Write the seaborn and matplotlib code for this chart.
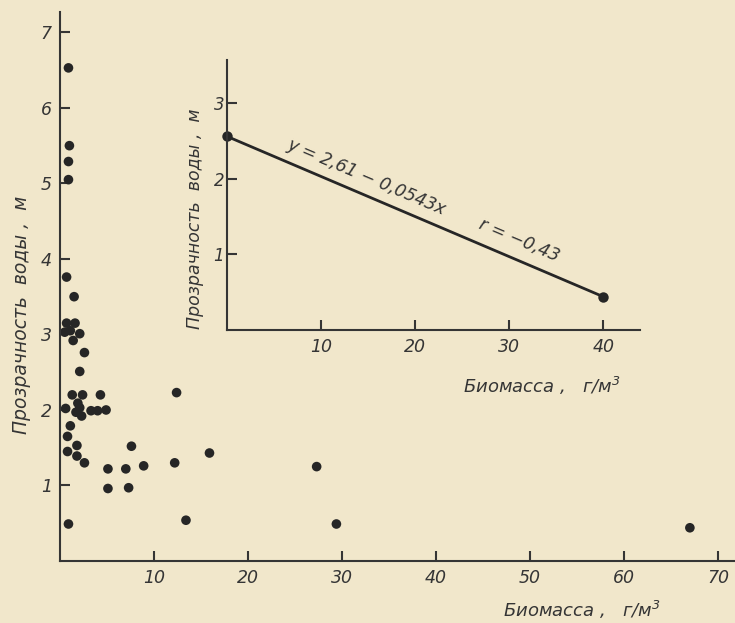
import numpy as np
import pandas as pd
import matplotlib.pyplot as plt
import seaborn as sns

# Биомасса (г/м3) и прозрачность воды (м)
biomassa = [0.9, 1.0, 0.9, 0.9, 0.7, 1.5, 0.7, 1.6, 0.5, 1.1, 2.1, 1.4, 2.6, 2.1,
            1.3, 2.4, 4.3, 0.6, 1.9, 2.1, 1.7, 2.3, 3.3, 4.0, 4.9, 1.1, 0.8, 0.8,
            1.8, 1.8, 2.6, 5.1, 5.1, 7.0, 7.3, 7.6, 8.9, 12.4, 12.2, 15.9, 13.4,
            0.9, 27.3, 29.4, 67.0]
prozrachnost = [6.53, 5.50, 5.29, 5.05, 3.76, 3.50, 3.15, 3.15, 3.03, 3.05, 3.01,
                2.92, 2.76, 2.51, 2.20, 2.20, 2.20, 2.02, 2.09, 2.03, 1.97, 1.92,
                1.99, 1.99, 2.00, 1.79, 1.65, 1.45, 1.53, 1.39, 1.30, 1.22, 0.96,
                1.22, 0.97, 1.52, 1.26, 2.23, 1.30, 1.43, 0.54, 0.49, 1.25, 0.49,
                0.44]

# линия регрессии (врезка)
reg_x = [0, 40]
reg_y = [2.56, 0.44]

main_xticks = [10, 20, 30, 40, 50, 60, 70]
main_yticks = [1, 2, 3, 4, 5, 6, 7]
inset_xticks = [10, 20, 30, 40]
inset_yticks = [1, 2, 3]

BG = '#f1e7cb'
INK = '#353535'

sns.set_style("ticks")
plt.rcParams['font.family'] = ['DejaVu Sans']
plt.rcParams['font.style'] = 'italic'
plt.rcParams['text.color'] = INK

df = pd.DataFrame({'x': biomassa, 'y': prozrachnost})
df_reg = pd.DataFrame({'x': reg_x, 'y': reg_y})

fig = plt.figure(figsize=(7.35, 6.23), dpi=100, facecolor=BG)

# ---- основной график ----
ax = fig.add_axes([60 / 735, (623 - 561) / 623, 675 / 735, (561 - 12) / 623])
ax.set_facecolor(BG)
sns.scatterplot(data=df, x='x', y='y', ax=ax, color='#262626', s=48,
                edgecolor='none', legend=False, clip_on=False)
ax.set_xlim(0, 71.8)
ax.set_ylim(0, 7.27)
ax.set_xticks(main_xticks)
ax.set_yticks(main_yticks)
ax.set_xlabel('')
ax.set_ylabel('')

# ---- врезка ----
ins = fig.add_axes([227 / 735, (623 - 330) / 623, (640 - 227) / 735, (330 - 60) / 623])
ins.patch.set_alpha(0)
sns.lineplot(data=df_reg, x='x', y='y', ax=ins, color='#262626', linewidth=2.0,
             marker='o', markersize=7.5, markeredgewidth=0, legend=False)
for ln in ins.lines:
    ln.set_clip_on(False)
ins.set_xlim(0, 43.9)
ins.set_ylim(0, 3.57)
ins.set_xticks(inset_xticks)
ins.set_yticks(inset_yticks)
ins.set_xlabel('')
ins.set_ylabel('')

for a in (ax, ins):
    sns.despine(ax=a)
    for s in ('left', 'bottom'):
        a.spines[s].set_color(INK)
        a.spines[s].set_linewidth(1.5)
    a.tick_params(direction='in', length=7, width=1.5, color=INK,
                  labelsize=12.5, labelcolor=INK, pad=6)
    for lab in a.get_xticklabels() + a.get_yticklabels():
        lab.set_fontstyle('italic')
ins.tick_params(axis='y', pad=2, labelsize=12)

# подписи осей
fig.text(22 / 735, 1 - 315 / 623, 'Прозрачность  воды ,  м', rotation=90,
         ha='center', va='center', fontsize=13.5, style='italic')
fig.text(582 / 735, 1 - 610 / 623, 'Биомасса ,   г/м$^3$',
         ha='center', va='center', fontsize=13, style='italic')
fig.text(195 / 735, 1 - 219 / 623, 'Прозрачность  воды ,  м', rotation=90,
         ha='center', va='center', fontsize=12.5, style='italic')
fig.text(542 / 735, 1 - 386 / 623, 'Биомасса ,   г/м$^3$',
         ha='center', va='center', fontsize=13, style='italic')

# уравнение и коэффициент корреляции
ins.text(14.8, 2.02, 'y = 2,61 − 0,0543x', rotation=-23, rotation_mode='anchor',
         ha='center', va='center', fontsize=12.5, style='italic')
ins.text(31.1, 1.18, 'r = −0,43', rotation=-23, rotation_mode='anchor',
         ha='center', va='center', fontsize=12.5, style='italic')

plt.savefig('out.png', dpi=100, facecolor=BG)
